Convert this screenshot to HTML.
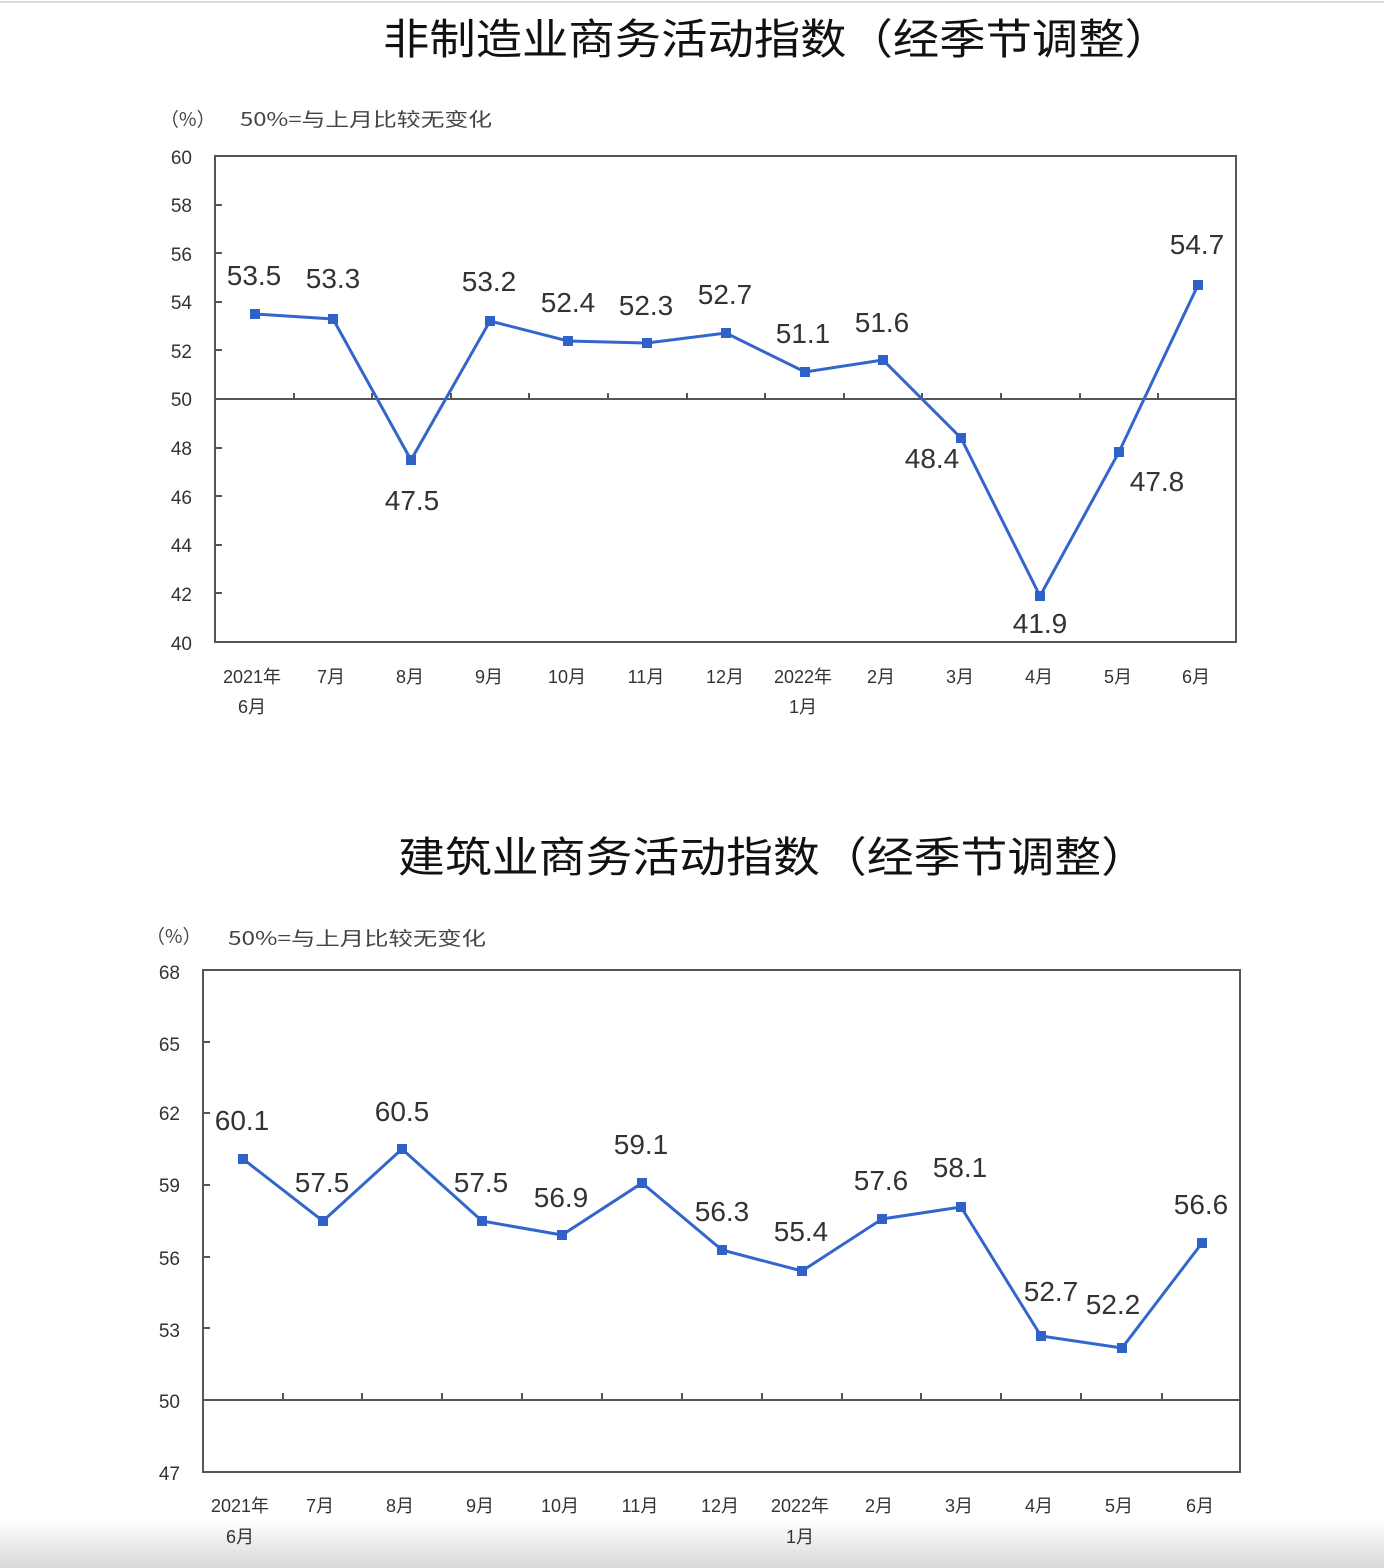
<!DOCTYPE html>
<html><head><meta charset="utf-8"><style>
html,body{margin:0;padding:0;background:#fff;}
svg{display:block;}
text{font-family:"Liberation Sans","Noto Sans CJK SC",sans-serif;}
.t{font-family:"Noto Sans CJK SC","WenQuanYi Zen Hei",sans-serif;font-size:42px;fill:#111;font-weight:400;}
.ax{font-size:19px;fill:#333;text-anchor:end;}
.xl{font-family:"Noto Sans CJK SC",sans-serif;font-size:18px;fill:#333;text-anchor:middle;}
.dl{font-size:28px;fill:#333;text-anchor:middle;}
.nt{font-family:"Noto Sans CJK SC",sans-serif;font-size:19px;fill:#444;}
</style></head><body>
<svg width="1384" height="1568" viewBox="0 0 1384 1568" xmlns="http://www.w3.org/2000/svg">
<defs><linearGradient id="g" x1="0" y1="0" x2="0" y2="1"><stop offset="0" stop-color="#fff"/><stop offset="1" stop-color="#d8d8d8"/></linearGradient></defs>
<rect x="0" y="1520" width="1384" height="48" fill="url(#g)"/>
<line x1="0" y1="2" x2="1384" y2="2" stroke="#ddd" stroke-width="2"/>

<!-- Chart 1 -->
<text class="t" x="383" y="54" textLength="788" lengthAdjust="spacingAndGlyphs">非制造业商务活动指数（经季节调整）</text>
<text class="nt" x="160" y="126">（%）</text>
<text class="nt" x="240" y="126" textLength="252" lengthAdjust="spacingAndGlyphs">50%=与上月比较无变化</text>
<rect x="215" y="156" width="1021" height="486" fill="none" stroke="#555" stroke-width="2"/>
<line x1="215" y1="399" x2="1236" y2="399" stroke="#555" stroke-width="2"/>
<g stroke="#555" stroke-width="2">
<line x1="215" y1="205" x2="222" y2="205"/><line x1="215" y1="253" x2="222" y2="253"/><line x1="215" y1="302" x2="222" y2="302"/><line x1="215" y1="350" x2="222" y2="350"/><line x1="215" y1="448" x2="222" y2="448"/><line x1="215" y1="496" x2="222" y2="496"/><line x1="215" y1="545" x2="222" y2="545"/><line x1="215" y1="593" x2="222" y2="593"/>
<line x1="294" y1="399" x2="294" y2="393"/><line x1="372" y1="399" x2="372" y2="393"/><line x1="451" y1="399" x2="451" y2="393"/><line x1="529" y1="399" x2="529" y2="393"/><line x1="608" y1="399" x2="608" y2="393"/><line x1="687" y1="399" x2="687" y2="393"/><line x1="765" y1="399" x2="765" y2="393"/><line x1="844" y1="399" x2="844" y2="393"/><line x1="922" y1="399" x2="922" y2="393"/><line x1="1001" y1="399" x2="1001" y2="393"/><line x1="1080" y1="399" x2="1080" y2="393"/><line x1="1158" y1="399" x2="1158" y2="393"/>
</g>
<g class="ax"><text x="192" y="164">60</text><text x="192" y="212">58</text><text x="192" y="261">56</text><text x="192" y="309">54</text><text x="192" y="358">52</text><text x="192" y="406">50</text><text x="192" y="455">48</text><text x="192" y="504">46</text><text x="192" y="552">44</text><text x="192" y="601">42</text><text x="192" y="650">40</text></g>
<g class="xl"><text x="252" y="683">2021年</text><text x="252" y="713">6月</text><text x="331" y="683">7月</text><text x="410" y="683">8月</text><text x="489" y="683">9月</text><text x="567" y="683">10月</text><text x="646" y="683">11月</text><text x="725" y="683">12月</text><text x="803" y="683">2022年</text><text x="803" y="713">1月</text><text x="881" y="683">2月</text><text x="960" y="683">3月</text><text x="1039" y="683">4月</text><text x="1118" y="683">5月</text><text x="1196" y="683">6月</text></g>
<polyline fill="none" stroke="#3366cc" stroke-width="3" points="255,314 333,319 411,460 490,321 568,341 647,343 726,333 805,372 883,360 961,438 1040,596 1119,452 1198,285"/>
<g fill="#2f62c8"><rect x="250" y="309" width="10" height="10"/><rect x="328" y="314" width="10" height="10"/><rect x="406" y="455" width="10" height="10"/><rect x="485" y="316" width="10" height="10"/><rect x="563" y="336" width="10" height="10"/><rect x="642" y="338" width="10" height="10"/><rect x="721" y="328" width="10" height="10"/><rect x="800" y="367" width="10" height="10"/><rect x="878" y="355" width="10" height="10"/><rect x="956" y="433" width="10" height="10"/><rect x="1035" y="591" width="10" height="10"/><rect x="1114" y="447" width="10" height="10"/><rect x="1193" y="280" width="10" height="10"/></g>
<g class="dl"><text x="254" y="285">53.5</text><text x="333" y="288">53.3</text><text x="412" y="510">47.5</text><text x="489" y="291">53.2</text><text x="568" y="312">52.4</text><text x="646" y="315">52.3</text><text x="725" y="304">52.7</text><text x="803" y="343">51.1</text><text x="882" y="332">51.6</text><text x="932" y="468">48.4</text><text x="1040" y="633">41.9</text><text x="1157" y="491">47.8</text><text x="1197" y="254">54.7</text></g>

<!-- Chart 2 -->
<text class="t" x="398" y="872" textLength="750" lengthAdjust="spacingAndGlyphs">建筑业商务活动指数（经季节调整）</text>
<text class="nt" x="146" y="943">（%）</text>
<text class="nt" x="228" y="945" textLength="258" lengthAdjust="spacingAndGlyphs">50%=与上月比较无变化</text>
<rect x="203" y="970" width="1037" height="502" fill="none" stroke="#555" stroke-width="2"/>
<line x1="203" y1="1400" x2="1240" y2="1400" stroke="#555" stroke-width="2"/>
<g stroke="#555" stroke-width="2">
<line x1="203" y1="1042" x2="210" y2="1042"/><line x1="203" y1="1113" x2="210" y2="1113"/><line x1="203" y1="1185" x2="210" y2="1185"/><line x1="203" y1="1257" x2="210" y2="1257"/><line x1="203" y1="1328" x2="210" y2="1328"/>
<line x1="283" y1="1400" x2="283" y2="1393"/><line x1="362" y1="1400" x2="362" y2="1393"/><line x1="442" y1="1400" x2="442" y2="1393"/><line x1="522" y1="1400" x2="522" y2="1393"/><line x1="602" y1="1400" x2="602" y2="1393"/><line x1="682" y1="1400" x2="682" y2="1393"/><line x1="762" y1="1400" x2="762" y2="1393"/><line x1="842" y1="1400" x2="842" y2="1393"/><line x1="921" y1="1400" x2="921" y2="1393"/><line x1="1001" y1="1400" x2="1001" y2="1393"/><line x1="1081" y1="1400" x2="1081" y2="1393"/><line x1="1162" y1="1400" x2="1162" y2="1393"/>
</g>
<g class="ax"><text x="180" y="979">68</text><text x="180" y="1051">65</text><text x="180" y="1120">62</text><text x="180" y="1192">59</text><text x="180" y="1265">56</text><text x="180" y="1337">53</text><text x="180" y="1408">50</text><text x="180" y="1480">47</text></g>
<g class="xl"><text x="240" y="1512">2021年</text><text x="240" y="1543">6月</text><text x="320" y="1512">7月</text><text x="400" y="1512">8月</text><text x="480" y="1512">9月</text><text x="560" y="1512">10月</text><text x="640" y="1512">11月</text><text x="720" y="1512">12月</text><text x="800" y="1512">2022年</text><text x="800" y="1543">1月</text><text x="879" y="1512">2月</text><text x="959" y="1512">3月</text><text x="1039" y="1512">4月</text><text x="1119" y="1512">5月</text><text x="1200" y="1512">6月</text></g>
<polyline fill="none" stroke="#3366cc" stroke-width="3" points="243,1159 323,1221 402,1149 482,1221 562,1235 642,1183 722,1250 802,1271 882,1219 961,1207 1041,1336 1122,1348 1202,1243"/>
<g fill="#2f62c8"><rect x="238" y="1154" width="10" height="10"/><rect x="318" y="1216" width="10" height="10"/><rect x="397" y="1144" width="10" height="10"/><rect x="477" y="1216" width="10" height="10"/><rect x="557" y="1230" width="10" height="10"/><rect x="637" y="1178" width="10" height="10"/><rect x="717" y="1245" width="10" height="10"/><rect x="797" y="1266" width="10" height="10"/><rect x="877" y="1214" width="10" height="10"/><rect x="956" y="1202" width="10" height="10"/><rect x="1036" y="1331" width="10" height="10"/><rect x="1117" y="1343" width="10" height="10"/><rect x="1197" y="1238" width="10" height="10"/></g>
<g class="dl"><text x="242" y="1130">60.1</text><text x="322" y="1192">57.5</text><text x="402" y="1121">60.5</text><text x="481" y="1192">57.5</text><text x="561" y="1207">56.9</text><text x="641" y="1154">59.1</text><text x="722" y="1221">56.3</text><text x="801" y="1241">55.4</text><text x="881" y="1190">57.6</text><text x="960" y="1177">58.1</text><text x="1051" y="1301">52.7</text><text x="1113" y="1314">52.2</text><text x="1201" y="1214">56.6</text></g>
</svg>
</body></html>
